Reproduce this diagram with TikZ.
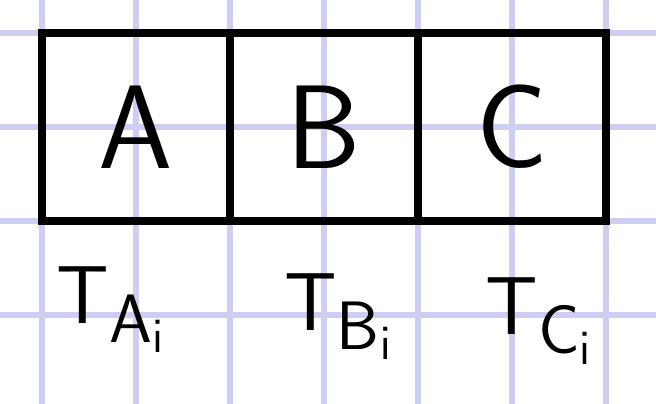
\documentclass[tikz,border=0pt]{standalone}
\usepackage{amssymb,amsmath}
\usepackage{tikz}

\definecolor{gridlav}{RGB}{206,206,242}
\tikzset{
  gridline/.style={draw=gridlav, line width=1.6pt},
  cell/.style={draw, line width=2.2pt, minimum width=2cm, minimum height=2cm, inner sep=0pt, font=\fontsize{36}{40}\selectfont\sffamily},
  templabel/.style={anchor=base west, inner sep=0pt, font=\fontsize{29}{32}\selectfont}
}

\begin{document}
\begin{tikzpicture}
\useasboundingbox (-0.447,-0.947) rectangle (6.532,3.351);
\fill[white] (-0.447,-0.947) rectangle (6.532,3.351);
\draw[gridline] (-0.6,-1.1) grid (6.7,3.5);
\node[cell] (a) at (1,2) {A};
\node[cell] (b) at (3,2) {B};
\node[cell] (c) at (5,2) {C};
\node[templabel] (ta) at (0.15,-0.09) {$\mathsf{T}_{\mathsf{A}_{\mathsf{i}}}$};
\node[templabel] (tb) at (2.57,-0.16) {$\mathsf{T}_{\mathsf{B}_{\mathsf{i}}}$};
\node[templabel] (tc) at (4.71,-0.21) {$\mathsf{T}_{\mathsf{C}_{\mathsf{i}}}$};
\end{tikzpicture}
\end{document}
